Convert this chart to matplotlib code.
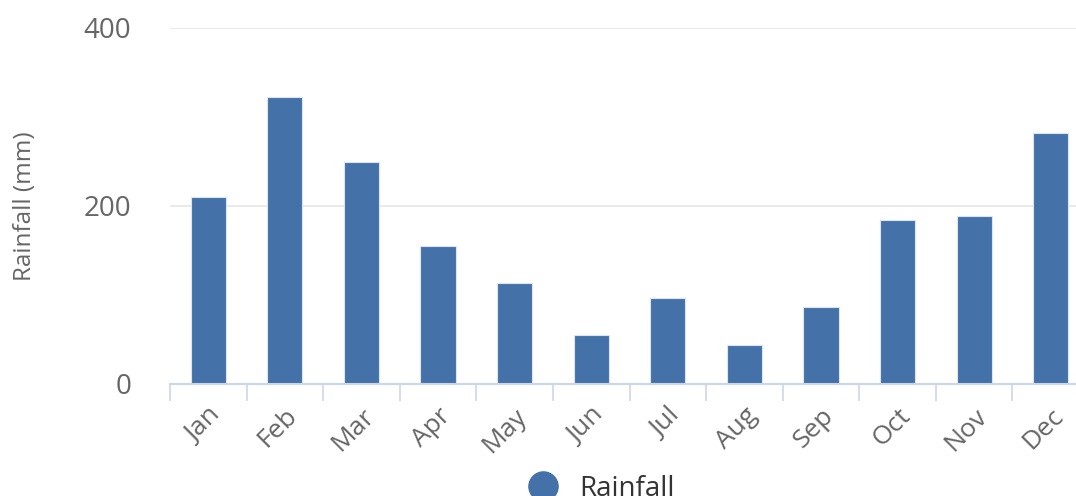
import numpy as np
import matplotlib
matplotlib.use('Agg')
from matplotlib import pyplot as plt
from matplotlib.lines import Line2D

months = ['Jan', 'Feb', 'Mar', 'Apr', 'May', 'Jun',
          'Jul', 'Aug', 'Sep', 'Oct', 'Nov', 'Dec']
rainfall = [210, 323, 250, 155, 113, 55, 97, 44, 87, 184, 189, 282]
y_ticks = [0, 200, 400]

plt.rcParams['font.family'] = ['Open Sans', 'DejaVu Sans']

fig = plt.figure(figsize=(10.76, 4.96), dpi=100)
# plot area runs past the right edge, like the cropped original
ax = fig.add_axes([170 / 1076, 112 / 496, 919 / 1076, 356 / 496])

x = np.arange(len(months))
ax.bar(x, rainfall, width=0.46, color='#4472a8', edgecolor='#dbe4f3',
       linewidth=0.8, zorder=3)

ax.set_xlim(-0.5, len(months) - 0.5)
ax.set_ylim(0, 400)
ax.set_yticks(y_ticks)
ax.set_yticklabels([str(v) for v in y_ticks])
ax.yaxis.grid(True, color='#e6e6e6', linewidth=1.2, zorder=0)
ax.tick_params(axis='y', length=0, pad=28, labelsize=20, labelcolor='#666666')

ax.set_xticks(x)
ax.set_xticklabels(months, rotation=45, ha='right', rotation_mode='anchor')
ax.set_xticks(np.arange(len(months) + 1) - 0.5, minor=True)
ax.tick_params(axis='x', which='major', length=0, pad=14,
               labelsize=19, labelcolor='#666666')
ax.tick_params(axis='x', which='minor', length=12, width=1.2, color='#ccd6eb')

for side in ['top', 'right', 'left']:
    ax.spines[side].set_visible(False)
ax.spines['bottom'].set_color('#ccd6eb')
ax.spines['bottom'].set_linewidth(1.5)
ax.spines['bottom'].set_zorder(4)

ax.set_ylabel('Rainfall (mm)', fontsize=17.5, color='#666666')
ax.yaxis.set_label_coords(-133 / 919, 0.5)

handle = Line2D([], [], marker='o', linestyle='none', markersize=21,
                color='#4472a8')
fig.legend([handle], ['Rainfall'], loc='center', frameon=False,
           bbox_to_anchor=(0.553, 0.015), fontsize=20, labelcolor='#333333',
           handletextpad=0.3)

fig.savefig('out.png', dpi=100)
